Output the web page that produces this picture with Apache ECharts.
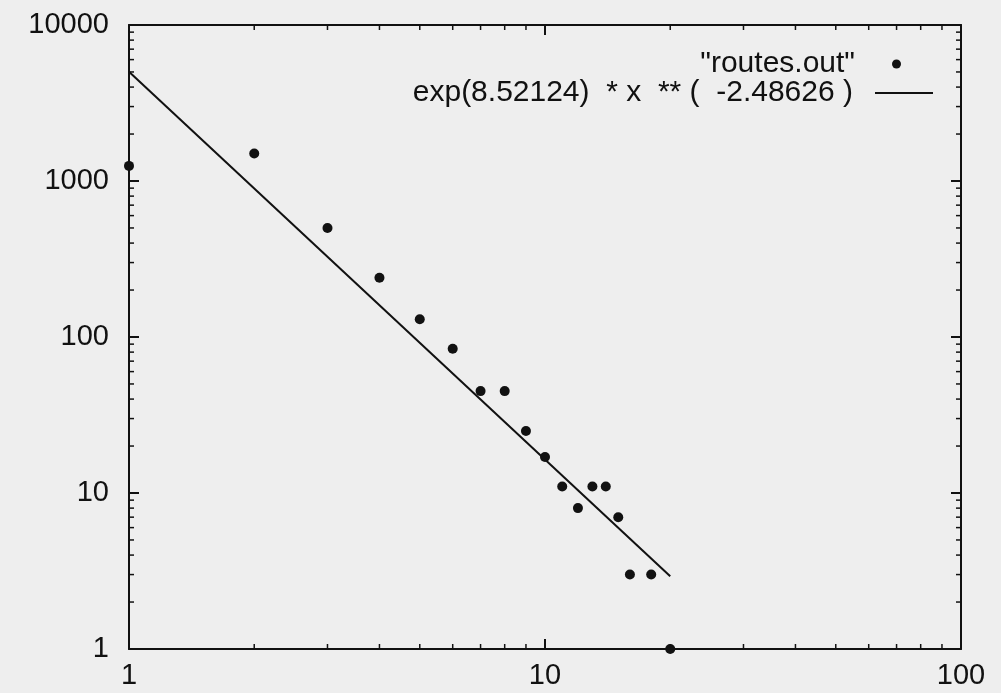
<!DOCTYPE html>
<html>
<head>
<meta charset="utf-8">
<script src="https://cdn.jsdelivr.net/npm/echarts@6/dist/echarts.min.js"></script>
<style>
html,body{margin:0;padding:0;background:#eeeeee;}
#chart{width:1001px;height:693px;}
</style>
</head>
<body>
<div id="chart"></div>
<script>
// ---- data ----
const degree = [1, 2, 3, 4, 5, 6, 7, 8, 9, 10, 11, 12, 13, 14, 15, 16, 18, 20];
const routes = [1250, 1500, 500, 240, 130, 84, 45, 45, 25, 17, 11, 8, 11, 11, 7, 3, 3, 1];
const fitX = [1, 20];
const fitY = [5021, 2.93];
const xRange = [1, 100];
const yRange = [1, 10000];
const xMinorTicks = [2, 3, 4, 5, 6, 7, 8, 9, 20, 30, 40, 50, 60, 70, 80, 90];
const yMinorTicks = [2, 3, 4, 5, 6, 7, 8, 9, 20, 30, 40, 50, 60, 70, 80, 90,
  200, 300, 400, 500, 600, 700, 800, 900, 2000, 3000, 4000, 5000, 6000, 7000, 8000, 9000];
const seriesNames = ['"routes.out"', 'exp(8.52124)  * x  ** (  -2.48626 )'];

const font = "'Liberation Sans', Arial, Helvetica, sans-serif";
const ink = '#111111';
const logLabel = v => String(Math.round(v));

function makeAxis(kind, position, showLabel, range) {
  return {
    type: 'log',
    logBase: 10,
    min: range[0],
    max: range[1],
    position: position,
    axisLine: { show: true, onZero: false, lineStyle: { color: ink, width: 2 } },
    axisTick: { show: true, inside: true, length: 10, lineStyle: { color: ink, width: 2 } },
    minorTick: { show: false },
    splitLine: { show: false },
    minorSplitLine: { show: false },
    axisLabel: {
      show: showLabel,
      margin: kind === 'x' ? 12 : 20,
      fontSize: 29,
      color: ink,
      fontFamily: font,
      formatter: logLabel
    }
  };
}

const scatterData = degree.map((d, i) => [d, routes[i]]);
const fitData = fitX.map((x, i) => [x, fitY[i]]);
const tickData = xMinorTicks.map(v => [v, yRange[0], 0])
  .concat(yMinorTicks.map(v => [xRange[0], v, 1]));

function renderMinorTick(params, api) {
  const cs = params.coordSys;
  const len = 5;
  const style = { stroke: ink, lineWidth: 1.5 };
  if (api.value(2) === 0) {
    const px = api.coord([api.value(0), yRange[0]])[0];
    const yb = cs.y + cs.height, yt = cs.y;
    return { type: 'group', children: [
      { type: 'line', shape: { x1: px, y1: yb, x2: px, y2: yb - len }, style: style },
      { type: 'line', shape: { x1: px, y1: yt, x2: px, y2: yt + len }, style: style }
    ] };
  }
  const py = api.coord([xRange[0], api.value(1)])[1];
  const xl = cs.x, xr = cs.x + cs.width;
  return { type: 'group', children: [
    { type: 'line', shape: { x1: xl, y1: py, x2: xl + len, y2: py }, style: style },
    { type: 'line', shape: { x1: xr, y1: py, x2: xr - len, y2: py }, style: style }
  ] };
}

const chart = echarts.init(document.getElementById('chart'), null, { renderer: 'canvas' });
chart.setOption({
  animation: false,
  backgroundColor: '#eeeeee',
  textStyle: { fontFamily: font, color: ink },
  grid: { left: 129, right: 40, top: 25, bottom: 44, containLabel: false },
  xAxis: [
    makeAxis('x', 'bottom', true, xRange),
    makeAxis('x', 'top', false, xRange)
  ],
  yAxis: [
    makeAxis('y', 'left', true, yRange),
    makeAxis('y', 'right', false, yRange)
  ],
  legend: [
    {
      data: [seriesNames[0]],
      right: 100, top: 49, padding: 0,
      align: 'right', selectedMode: false,
      itemWidth: 9, itemHeight: 9,
      textStyle: { fontSize: 30, color: ink, fontFamily: font, padding: [0, 32, 0, 0] }
    },
    {
      data: [{ name: seriesNames[1], icon: 'rect' }],
      right: 68, top: 78, padding: 0,
      align: 'right', selectedMode: false,
      itemWidth: 58, itemHeight: 2,
      textStyle: { fontSize: 30, color: ink, fontFamily: font, padding: [0, 17, 0, 0] }
    }
  ],
  series: [
    {
      name: seriesNames[0],
      type: 'scatter',
      xAxisIndex: 0, yAxisIndex: 0,
      symbol: 'circle',
      symbolSize: 10,
      itemStyle: { color: ink, opacity: 1 },
      clip: false,
      data: scatterData
    },
    {
      name: seriesNames[1],
      type: 'line',
      xAxisIndex: 0, yAxisIndex: 0,
      symbol: 'none',
      showSymbol: false,
      lineStyle: { color: ink, width: 2 },
      itemStyle: { color: ink },
      data: fitData
    },
    {
      name: 'minor ticks',
      type: 'custom',
      xAxisIndex: 0, yAxisIndex: 0,
      silent: true,
      clip: false,
      encode: { x: 0, y: 1 },
      renderItem: renderMinorTick,
      data: tickData
    }
  ]
});
</script>
</body>
</html>
